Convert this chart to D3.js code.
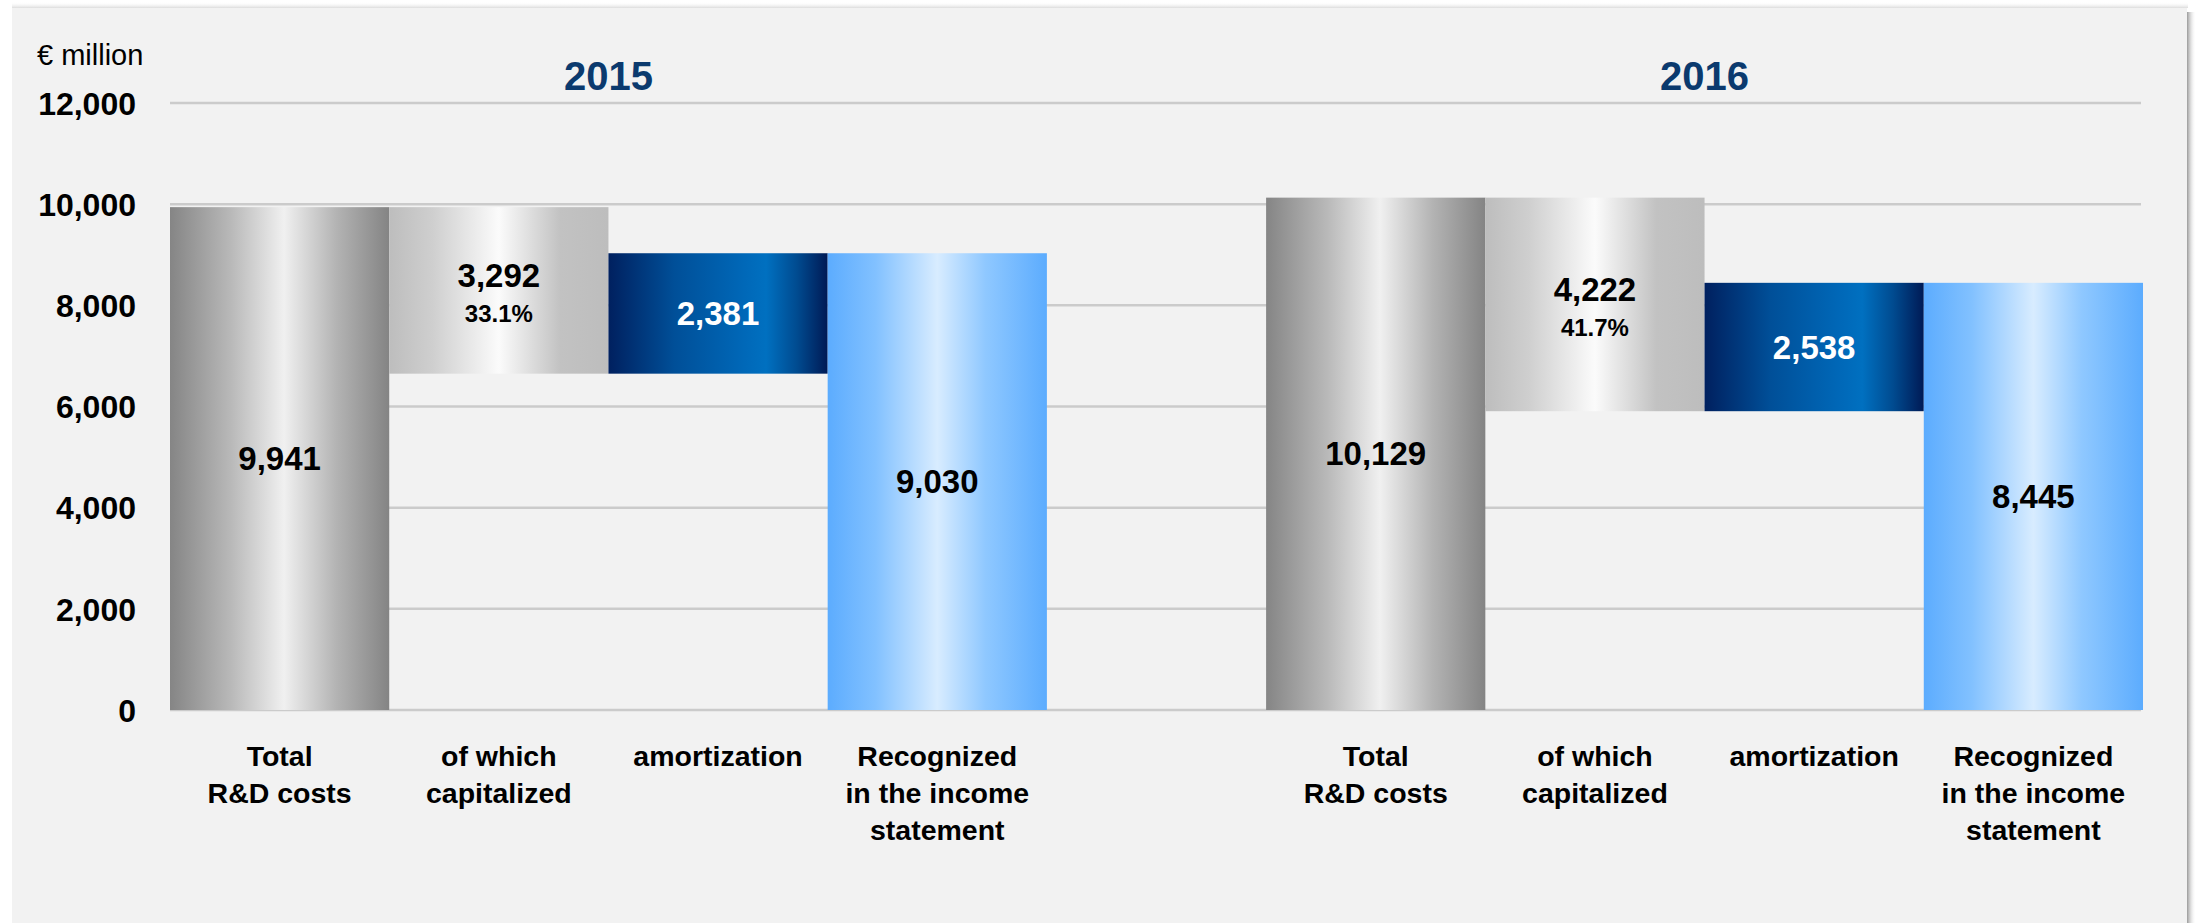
<!DOCTYPE html>
<html>
<head>
<meta charset="utf-8">
<script src="https://cdn.jsdelivr.net/npm/d3@7/dist/d3.min.js"></script>
<style>
  html, body { margin: 0; padding: 0; background: #ffffff; }
  svg { display: block; }
  text { font-family: "Liberation Sans", Arial, Helvetica, sans-serif; }
</style>
</head>
<body>
<svg id="chart" width="2203" height="923"></svg>
<script>
// R&D costs bridge, € million
const years = ["2015", "2016"];
const categories = [
  ["Total", "R&D costs"],
  ["of which", "capitalized"],
  ["amortization"],
  ["Recognized", "in the income", "statement"]
];
const totalCosts = [9941, 10129];
const capitalized = [3292, 4222];
const capitalizedShare = ["33.1%", "41.7%"];
const amortization = [2381, 2538];
const recognized = [9030, 8445];
const yTicks = [0, 2000, 4000, 6000, 8000, 10000, 12000];
const unitLabel = "€ million";

const W = 2203, H = 923;
const plot = { left: 170, right: 2143, top: 103, bottom: 710 };

const svg = d3.select("#chart");
const defs = svg.append("defs");

// horizontal "cylinder" shading for each kind of bar
const gradients = {
  total: [[0, "#858585"], [0.28, "#b9b9b9"], [0.52, "#f0f0f0"], [0.76, "#b3b3b3"], [1, "#848484"]],
  cap: [[0, "#bdbdbd"], [0.2, "#cfcfcf"], [0.5, "#fbfbfb"], [0.78, "#c2c2c2"], [1, "#bdbdbd"]],
  amort: [[0, "#00205f"], [0.3, "#004f98"], [0.62, "#0068b8"], [0.72, "#0070c0"], [0.86, "#004b90"], [1, "#001a55"]],
  recog: [[0, "#5cacfe"], [0.22, "#82c1ff"], [0.5, "#d8ecff"], [0.72, "#8fc8ff"], [1, "#5cacfe"]]
};
Object.entries(gradients).forEach(([id, stops]) => {
  const g = defs.append("linearGradient").attr("id", "g-" + id)
    .attr("x1", "0%").attr("x2", "100%").attr("y1", "0%").attr("y2", "0%");
  stops.forEach(([o, c]) => g.append("stop").attr("offset", o).attr("stop-color", c));
});
const shadow = defs.append("linearGradient").attr("id", "panel-shadow")
  .attr("x1", "0%").attr("x2", "100%");
shadow.append("stop").attr("offset", 0).attr("stop-color", "#9a9a9a");
shadow.append("stop").attr("offset", 1).attr("stop-color", "#ffffff").attr("stop-opacity", 0);
const shadowTop = defs.append("linearGradient").attr("id", "panel-shadow-top")
  .attr("x1", "0%").attr("x2", "0%").attr("y1", "100%").attr("y2", "0%");
shadowTop.append("stop").attr("offset", 0).attr("stop-color", "#dcdcdc");
shadowTop.append("stop").attr("offset", 1).attr("stop-color", "#ffffff").attr("stop-opacity", 0);

// background panel
svg.append("rect").attr("x", 0).attr("y", 0).attr("width", W).attr("height", H).attr("fill", "#ffffff");
svg.append("rect").attr("x", 12).attr("y", 2).attr("width", 2176).attr("height", 6).attr("fill", "url(#panel-shadow-top)");
svg.append("rect").attr("x", 2187).attr("y", 12).attr("width", 9).attr("height", H - 12).attr("fill", "url(#panel-shadow)");
svg.append("rect").attr("x", 12).attr("y", 8).attr("width", 2175).attr("height", H - 8).attr("fill", "#f2f2f2");

// one slot per bar, with an empty slot separating the two years
const slots = [];
years.forEach((yr, yi) => {
  if (yi > 0) slots.push("gap-" + yi);
  categories.forEach((c, ci) => slots.push(yr + "|" + ci));
});
const x = d3.scaleBand().domain(slots).range([plot.left, plot.right]).padding(0);
const y = d3.scaleLinear().domain([0, 12000]).range([plot.bottom, plot.top]);

// gridlines
svg.append("g").selectAll("line").data(yTicks).join("line")
  .attr("x1", plot.left).attr("x2", plot.right - 2)
  .attr("y1", d => y(d)).attr("y2", d => y(d))
  .attr("stroke", "#cbcbcb").attr("stroke-width", 2.5);

// y axis labels
const yAxis = d3.axisLeft(y).tickValues(yTicks).tickFormat(d3.format(",")).tickSize(0).tickPadding(0);
const ya = svg.append("g").attr("transform", "translate(136,0)").call(yAxis);
ya.select(".domain").remove();
ya.selectAll("text")
  .attr("font-family", "'Liberation Sans', Arial, sans-serif")
  .attr("font-size", 32).attr("font-weight", "bold").attr("fill", "#000")
  .attr("dy", "0.35em");

svg.append("text").attr("x", 37).attr("y", 65)
  .attr("font-size", 29).attr("fill", "#000").text(unitLabel);

// bar records
const bars = [];
years.forEach((yr, i) => {
  const base = totalCosts[i] - capitalized[i];
  bars.push({ slot: yr + "|0", y0: 0, y1: totalCosts[i], fill: "total", label: totalCosts[i], color: "#000" });
  bars.push({ slot: yr + "|1", y0: base, y1: totalCosts[i], fill: "cap", label: capitalized[i], share: capitalizedShare[i], color: "#000" });
  bars.push({ slot: yr + "|2", y0: base, y1: base + amortization[i], fill: "amort", label: amortization[i], color: "#fff" });
  bars.push({ slot: yr + "|3", y0: 0, y1: recognized[i], fill: "recog", label: recognized[i], color: "#000" });
});

const fmt = d3.format(",");
const bg = svg.append("g");
bg.selectAll("rect").data(bars).join("rect")
  .attr("x", d => x(d.slot)).attr("width", x.bandwidth())
  .attr("y", d => y(d.y1)).attr("height", d => y(d.y0) - y(d.y1))
  .attr("fill", d => "url(#g-" + d.fill + ")");

// value labels
bars.forEach(d => {
  const cx = x(d.slot) + x.bandwidth() / 2;
  const mid = (y(d.y0) + y(d.y1)) / 2;
  if (d.share) {
    svg.append("text").attr("x", cx).attr("y", mid - 3).attr("text-anchor", "middle")
      .attr("font-size", 33).attr("font-weight", "bold").attr("fill", d.color).text(fmt(d.label));
    svg.append("text").attr("x", cx).attr("y", mid + 32).attr("text-anchor", "middle")
      .attr("font-size", 24).attr("font-weight", "bold").attr("fill", d.color).text(d.share);
  } else {
    svg.append("text").attr("x", cx).attr("y", mid).attr("dy", "0.35em").attr("text-anchor", "middle")
      .attr("font-size", 33).attr("font-weight", "bold").attr("fill", d.color).text(fmt(d.label));
  }
});

// year titles over each group
years.forEach(yr => {
  const x0 = x(yr + "|0"), x1 = x(yr + "|" + (categories.length - 1)) + x.bandwidth();
  svg.append("text").attr("x", (x0 + x1) / 2).attr("y", 90).attr("text-anchor", "middle")
    .attr("font-size", 40).attr("font-weight", "bold").attr("fill", "#0b3a6e").text(yr);
});

// category labels
years.forEach(yr => {
  categories.forEach((lines, ci) => {
    const cx = x(yr + "|" + ci) + x.bandwidth() / 2;
    const t = svg.append("text").attr("text-anchor", "middle")
      .attr("font-size", 28.5).attr("font-weight", "bold").attr("fill", "#000");
    lines.forEach((ln, li) => {
      t.append("tspan").attr("x", cx).attr("y", 766 + li * 37).text(ln);
    });
  });
});
</script>
</body>
</html>
